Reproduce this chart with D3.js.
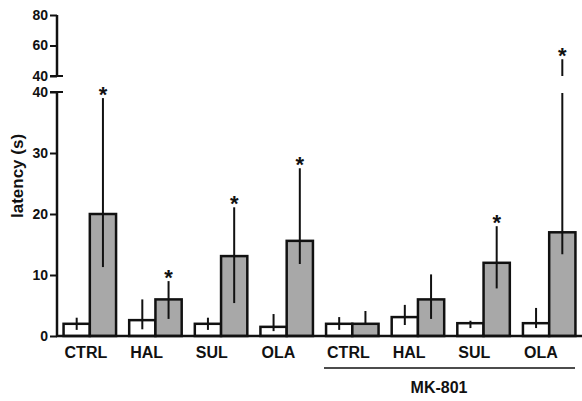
<!DOCTYPE html>
<html>
<head>
<meta charset="utf-8">
<script src="https://cdn.jsdelivr.net/npm/d3@7"></script>
<style>
  body { margin: 0; background: #fff; }
  text { font-family: "Liberation Sans", Arial, sans-serif; font-weight: bold; fill: #111; }
</style>
</head>
<body>
<div id="chart"></div>
<script>
// groups along the x axis (last four are under MK-801)
let groups = ["CTRL", "HAL", "SUL", "OLA", "CTRL", "HAL", "SUL", "OLA"];
// white bars (first of pair)
let whiteMean = [2, 2.6, 2, 1.5, 2, 3.1, 2.1, 2.1];
let whiteLow = [1, 1.1, 1, 0.8, 1, 1.8, 1.3, 1.3];
let whiteHigh = [3, 6, 3, 3.6, 3.1, 5.1, 2.5, 4.6];
// gray bars (second of pair)
let grayMean = [20, 6, 13.1, 15.6, 2, 6, 12, 17];
let grayLow = [11.3, 2.8, 5.4, 11.8, 2, 2.8, 7.8, 13.4];
let grayHigh = [39, 9, 21.1, 27.5, 4.1, 10.1, 18, 51];
let graySig = [true, true, true, true, false, false, true, true];
let lowTicks = [0, 10, 20, 30, 40];
let highTicks = [40, 60, 80];

function init() {
    const w = 582, h = 401;
    const svg = d3.select("#chart").append("svg")
        .attr("width", w).attr("height", h);

    const x = d3.scaleBand()
        .domain(d3.range(groups.length))
        .range([57, 582])
        .paddingInner(0.2)
        .paddingOuter(0.1);
    const half = x.bandwidth() / 2;

    const yLow = d3.scaleLinear().domain([0, 40]).range([336, 92]);
    const yHigh = d3.scaleLinear().domain([40, 80]).range([76, 15]);

    // value -> pixel across the broken axis
    function yv(v) {
        return v <= 40 ? yLow(v) : yHigh(v);
    }

    // axes
    const axisLow = d3.axisLeft(yLow).tickValues(lowTicks).tickSize(7).tickPadding(2);
    const axisHigh = d3.axisLeft(yHigh).tickValues(highTicks).tickSize(7).tickPadding(2);

    [[axisLow, yLow], [axisHigh, yHigh]].forEach(function (a) {
        const g = svg.append("g").attr("transform", "translate(57,0)").call(a[0]);
        g.select(".domain").remove();
        g.selectAll("line").attr("stroke", "#111").attr("stroke-width", 2);
        g.selectAll("text").style("font-size", "14px").style("font-family", "Liberation Sans, Arial").style("font-weight", "bold").attr("fill", "#111");
        const r = a[1].range();
        g.append("line").attr("x1", 0).attr("x2", 0)
            .attr("y1", r[0]).attr("y2", r[1])
            .attr("stroke", "#111").attr("stroke-width", 2.5);
    });
    // caps at the break
    svg.append("line").attr("x1", 50).attr("x2", 63)
        .attr("y1", yHigh(40)).attr("y2", yHigh(40)).attr("stroke", "#111").attr("stroke-width", 2);
    svg.append("line").attr("x1", 50).attr("x2", 63)
        .attr("y1", yLow(40)).attr("y2", yLow(40)).attr("stroke", "#111").attr("stroke-width", 2);

    // bars
    const bars = svg.append("g");
    function drawBar(i, mean, low, high, fill, dx) {
        const bx = x(i) + dx;
        bars.append("rect")
            .attr("x", bx).attr("y", yLow(mean))
            .attr("width", half).attr("height", yLow(0) - yLow(mean))
            .attr("fill", fill).attr("stroke", "#111").attr("stroke-width", 2.5);
        const cx = bx + half / 2;
        if (high > 40) {
            bars.append("line").attr("x1", cx).attr("x2", cx)
                .attr("y1", yLow(low)).attr("y2", yLow(40) + 1)
                .attr("stroke", "#111").attr("stroke-width", 2);
            bars.append("line").attr("x1", cx).attr("x2", cx)
                .attr("y1", yHigh(40)).attr("y2", yHigh(high))
                .attr("stroke", "#111").attr("stroke-width", 2);
        } else {
            bars.append("line").attr("x1", cx).attr("x2", cx)
                .attr("y1", yLow(low)).attr("y2", yLow(high))
                .attr("stroke", "#111").attr("stroke-width", 2);
        }
        return cx;
    }
    for (let i = 0; i < groups.length; i++) {
        drawBar(i, whiteMean[i], whiteLow[i], whiteHigh[i], "#fff", 0);
        const cx = drawBar(i, grayMean[i], grayLow[i], grayHigh[i], "#a8a8a8", half);
        if (graySig[i]) {
            svg.append("text").attr("x", cx).attr("y", yv(grayHigh[i]) + 4)
                .attr("text-anchor", "middle").style("font-size", "22px").text("*");
        }
    }

    // x axis line
    svg.append("line").attr("x1", 56).attr("x2", 582)
        .attr("y1", yLow(0)).attr("y2", yLow(0))
        .attr("stroke", "#111").attr("stroke-width", 2.5);

    // group labels, set at the left edge of each pair
    svg.selectAll(".glabel").data(groups).enter().append("text")
        .attr("class", "glabel")
        .attr("x", function (d, i) { return x(i) + 1; })
        .attr("y", 358)
        .attr("text-anchor", "start")
        .style("font-size", "16px")
        .text(function (d) { return d; });

    // MK-801 bracket
    svg.append("line").attr("x1", 324).attr("x2", 575)
        .attr("y1", 368).attr("y2", 368).attr("stroke", "#111").attr("stroke-width", 1.5);
    svg.append("text").attr("x", 439).attr("y", 393)
        .attr("text-anchor", "middle").style("font-size", "16px").text("MK-801");

    // y title
    svg.append("text")
        .attr("transform", "translate(23,176) rotate(-90)")
        .attr("text-anchor", "middle")
        .style("font-size", "17px")
        .text("latency (s)");
}

window.onload = init;
</script>
</body>
</html>
